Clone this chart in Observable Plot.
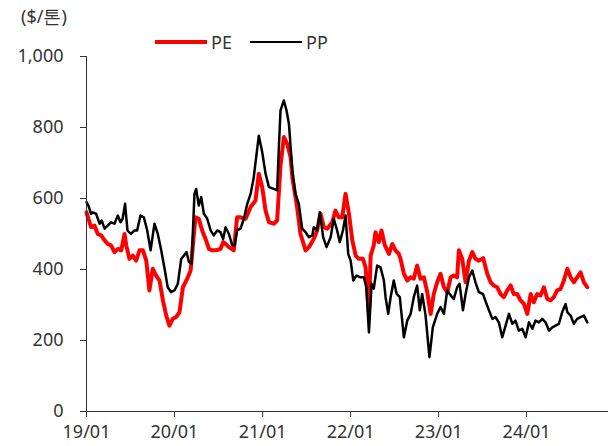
<!DOCTYPE html>
<html><head><meta charset="utf-8">
<script src="https://cdn.jsdelivr.net/npm/d3@7"></script>
<script src="https://cdn.jsdelivr.net/npm/@observablehq/plot@0.6"></script>
<style>
body{margin:0;background:#fff;font-family:"Noto Sans",sans-serif;}
#wrap{position:relative;width:608px;height:446px;overflow:hidden;}
#ylab{position:absolute;left:21px;top:4px;font-size:18px;color:#333;}
.leg{position:absolute;top:30px;font-size:18px;color:#333;display:flex;align-items:center;}
.sw{display:inline-block;width:52px;margin-right:4px;}
#chart{position:absolute;left:0;top:0;}
</style></head><body>
<div id="wrap">
  <div id="chart"></div>
  <div id="ylab">($/톤)</div>
  <div class="leg" style="left:155px"><span class="sw" style="border-top:4px solid #ff0000"></span>PE</div>
  <div class="leg" style="left:250px"><span class="sw" style="border-top:2.5px solid #000"></span>PP</div>
</div>
<script>
const seriesNames = ["PE", "PP"];
const yTicks = [0, 200, 400, 600, 800, 1000];
const xTickDates = ["2019-01-01","2020-01-01","2021-01-01","2022-01-01","2023-01-01","2024-01-01"];
const xTickLabels = ["19/01","20/01","21/01","22/01","23/01","24/01"];
const xDomain = ["2019-01-01","2024-12-06"];

const pe = [
["2019-01-01",561],["2019-01-20",519],["2019-02-03",524],["2019-02-17",500],["2019-03-03",496],["2019-03-17",482],
["2019-03-30",472],["2019-04-13",468],["2019-04-27",449],["2019-05-11",458],["2019-05-25",454],["2019-06-08",500],
["2019-06-15",468],["2019-06-28",430],["2019-07-12",439],["2019-07-26",425],["2019-08-09",454],["2019-08-23",454],
["2019-09-06",425],["2019-09-19",341],["2019-10-03",402],["2019-10-17",383],["2019-10-31",369],["2019-11-14",313],
["2019-11-28",270],["2019-12-11",242],["2019-12-25",261],["2020-01-08",266],["2020-01-22",280],["2020-02-05",350],
["2020-02-23",374],["2020-03-08",397],["2020-03-28",547],["2020-04-11",543],["2020-04-25",510],["2020-05-09",486],
["2020-05-23",458],["2020-06-06",454],["2020-06-26",455],["2020-07-10",458],["2020-07-21",477],["2020-07-31",472],
["2020-08-14",463],["2020-09-03",454],["2020-09-17",547],["2020-10-01",547],["2020-10-22",543],["2020-11-12",576],
["2020-12-02",594],["2020-12-16",670],["2020-12-30",632],["2021-01-13",566],["2021-01-27",533],["2021-02-16",529],
["2021-03-02",538],["2021-03-16",693],["2021-03-30",773],["2021-04-13",754],["2021-04-27",716],["2021-05-04",660],
["2021-05-24",575],["2021-06-07",500],["2021-06-28",454],["2021-07-12",463],["2021-08-01",486],["2021-08-15",510],
["2021-08-29",557],["2021-09-12",519],["2021-09-26",515],["2021-10-17",533],["2021-10-30",566],["2021-11-13",547],
["2021-11-27",547],["2021-12-11",613],["2021-12-25",557],["2022-01-08",482],["2022-01-22",439],["2022-02-04",430],
["2022-02-21",430],["2022-03-04",406],["2022-03-18",275],["2022-03-25",439],["2022-04-07",468],["2022-04-14",505],
["2022-04-28",477],["2022-05-09",510],["2022-05-23",468],["2022-06-09",444],["2022-06-23",472],["2022-07-06",454],
["2022-07-20",444],["2022-07-27",430],["2022-08-10",388],["2022-08-24",369],["2022-09-07",378],["2022-09-20",374],
["2022-10-04",411],["2022-10-18",374],["2022-11-01",378],["2022-11-15",336],["2022-11-29",275],["2022-12-12",331],
["2022-12-26",364],["2023-01-09",388],["2023-01-23",350],["2023-02-06",336],["2023-02-20",378],["2023-03-05",383],
["2023-03-19",378],["2023-03-26",454],["2023-04-09",430],["2023-04-23",364],["2023-05-07",425],["2023-05-21",449],
["2023-06-03",430],["2023-06-17",425],["2023-07-05",432],["2023-07-22",388],["2023-08-05",364],["2023-08-18",355],
["2023-09-01",350],["2023-09-15",331],["2023-09-29",322],["2023-10-13",341],["2023-10-27",355],["2023-11-09",331],
["2023-11-23",331],["2023-12-07",313],["2023-12-21",303],["2024-01-04",275],["2024-01-18",331],["2024-01-31",308],
["2024-02-14",331],["2024-02-28",327],["2024-03-13",350],["2024-03-27",317],["2024-04-10",313],["2024-04-23",322],
["2024-05-07",341],["2024-05-21",345],["2024-06-04",369],["2024-06-18",402],["2024-07-02",378],["2024-07-15",364],
["2024-07-29",378],["2024-08-12",392],["2024-08-26",364],["2024-09-09",350]
];

const pp = [
["2019-01-01",590],["2019-01-09",580],["2019-01-20",557],["2019-01-27",561],["2019-02-10",557],["2019-02-24",529],
["2019-03-05",538],["2019-03-17",515],["2019-03-30",524],["2019-04-13",533],["2019-04-27",529],["2019-05-11",552],
["2019-05-22",533],["2019-05-31",543],["2019-06-10",585],["2019-06-20",510],["2019-07-04",500],["2019-07-19",510],
["2019-07-30",510],["2019-08-13",552],["2019-08-27",547],["2019-09-10",510],["2019-09-24",454],["2019-10-10",529],
["2019-10-24",500],["2019-11-07",454],["2019-11-21",402],["2019-12-04",350],["2019-12-18",336],["2020-01-01",341],
["2020-01-15",360],["2020-01-29",430],["2020-02-09",439],["2020-02-20",449],["2020-03-01",421],["2020-03-12",416],
["2020-03-24",613],["2020-03-31",627],["2020-04-11",580],["2020-04-21",604],["2020-05-02",557],["2020-05-16",543],
["2020-05-30",510],["2020-06-12",496],["2020-06-26",510],["2020-07-10",505],["2020-07-21",486],["2020-07-31",519],
["2020-08-14",500],["2020-08-28",468],["2020-09-07",468],["2020-09-17",510],["2020-10-01",515],["2020-10-15",543],
["2020-10-29",585],["2020-11-12",613],["2020-11-25",660],["2020-12-16",777],["2020-12-30",731],["2021-01-13",670],
["2021-01-27",632],["2021-02-16",627],["2021-03-02",623],["2021-03-09",740],["2021-03-16",848],["2021-03-30",876],
["2021-04-10",848],["2021-04-20",810],["2021-05-04",679],["2021-05-17",613],["2021-05-31",585],["2021-06-14",515],
["2021-06-28",505],["2021-07-12",491],["2021-07-26",496],["2021-08-01",519],["2021-08-15",510],["2021-08-26",561],
["2021-09-09",491],["2021-09-23",463],["2021-10-10",491],["2021-10-23",543],["2021-11-06",510],["2021-11-17",477],
["2021-11-30",510],["2021-12-11",552],["2021-12-22",444],["2022-01-01",425],["2022-01-12",369],["2022-01-25",383],
["2022-02-11",378],["2022-02-25",378],["2022-03-07",350],["2022-03-18",223],["2022-03-29",360],["2022-04-07",346],
["2022-04-21",411],["2022-05-05",406],["2022-05-19",369],["2022-05-26",322],["2022-06-06",275],["2022-06-16",322],
["2022-06-29",369],["2022-07-11",331],["2022-07-24",322],["2022-08-10",209],["2022-08-24",256],["2022-09-07",275],
["2022-09-20",322],["2022-10-04",355],["2022-10-15",285],["2022-10-25",331],["2022-11-08",270],["2022-11-24",153],
["2022-12-08",237],["2022-12-26",275],["2023-01-09",294],["2023-01-23",275],["2023-02-06",341],["2023-02-20",327],
["2023-03-05",317],["2023-03-19",350],["2023-03-29",360],["2023-04-12",285],["2023-04-23",331],["2023-05-07",378],
["2023-05-21",397],["2023-06-03",364],["2023-06-17",336],["2023-07-04",331],["2023-07-15",310],["2023-07-29",285],
["2023-08-12",261],["2023-08-25",266],["2023-09-08",251],["2023-09-22",209],["2023-10-06",242],["2023-10-20",275],
["2023-11-03",247],["2023-11-16",256],["2023-11-30",228],["2023-12-14",233],["2023-12-28",209],["2024-01-11",251],
["2024-01-25",233],["2024-02-07",256],["2024-02-21",251],["2024-03-06",261],["2024-03-20",251],["2024-04-03",228],
["2024-04-17",237],["2024-04-30",242],["2024-05-14",247],["2024-05-28",280],["2024-06-11",303],["2024-06-18",280],
["2024-07-02",270],["2024-07-15",247],["2024-07-29",261],["2024-08-12",266],["2024-08-26",270],["2024-09-09",251]
];

const parse = d3.utcParse("%Y-%m-%d");
const toRows = (arr, name) => arr.map(([d, v]) => ({date: parse(d), value: v, series: name}));
const rowsPE = toRows(pe, seriesNames[0]);
const rowsPP = toRows(pp, seriesNames[1]);
const tickDates = xTickDates.map(parse);
const labelOf = new Map(tickDates.map((d, i) => [+d, xTickLabels[i]]));

const chart = Plot.plot({
  width: 608,
  height: 446,
  marginLeft: 86,
  marginRight: 0,
  marginTop: 56,
  marginBottom: 35,
  style: {fontFamily: "'Noto Sans', sans-serif", fontSize: "18px", color: "#333", background: "#fff"},
  x: {type: "utc", domain: xDomain.map(parse), ticks: tickDates, tickFormat: d => labelOf.get(+d), tickSize: 6, tickPadding: 8, label: null},
  y: {domain: [0, 1000], ticks: yTicks, tickFormat: d3.format(","), tickSize: 6, tickPadding: 17, label: null},
  marks: [
    Plot.line(rowsPE, {x: "date", y: "value", stroke: "#ff0000", strokeWidth: 4, curve: "linear"}),
    Plot.line(rowsPP, {x: "date", y: "value", stroke: "#000000", strokeWidth: 2.5, curve: "linear"}),
    Plot.ruleY([0], {stroke: "#333", strokeWidth: 1}),
    Plot.ruleX([parse(xDomain[0])], {stroke: "#333", strokeWidth: 1})
  ]
});
document.getElementById("chart").appendChild(chart);
</script>
</body></html>
